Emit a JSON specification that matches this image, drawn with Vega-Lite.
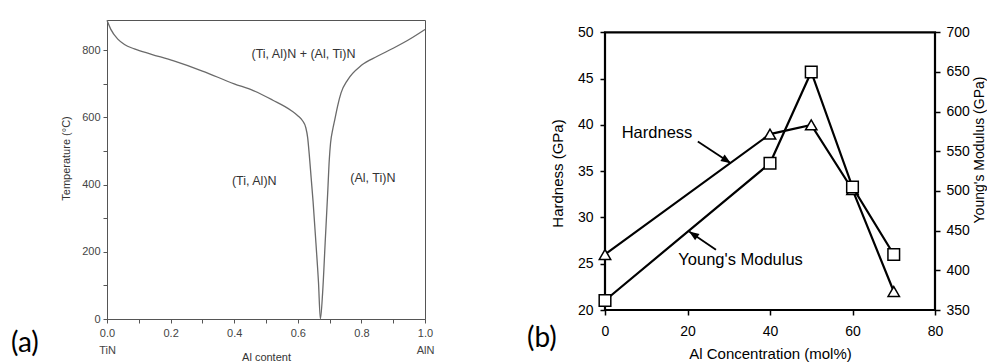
{
  "$schema": "https://vega.github.io/schema/vega-lite/v6.json",
  "background": "white",
  "padding": {"left": 10, "top": 17, "right": 0, "bottom": 0},
  "spacing": 180,
  "bounds": "flush",
  "config": {
    "view": {"stroke": null},
    "axis": {"grid": false, "labelFont": "Liberation Sans", "titleFont": "Liberation Sans", "titleFontWeight": "normal", "labelOverlap": false, "labelFlush": false},
    "text": {"font": "Liberation Sans"}
  },
  "datasets": {
    "solvus": [
      {"al": 0.0, "temp": 889},
      {"al": 0.012, "temp": 862},
      {"al": 0.034, "temp": 833},
      {"al": 0.055, "temp": 817},
      {"al": 0.086, "temp": 804},
      {"al": 0.14, "temp": 788},
      {"al": 0.21, "temp": 768},
      {"al": 0.30, "temp": 738},
      {"al": 0.40, "temp": 700},
      {"al": 0.46, "temp": 680},
      {"al": 0.52, "temp": 652},
      {"al": 0.58, "temp": 620},
      {"al": 0.60, "temp": 605},
      {"al": 0.615, "temp": 590},
      {"al": 0.625, "temp": 570},
      {"al": 0.631, "temp": 540},
      {"al": 0.636, "temp": 490},
      {"al": 0.642, "temp": 420},
      {"al": 0.648, "temp": 350},
      {"al": 0.657, "temp": 226},
      {"al": 0.665, "temp": 110},
      {"al": 0.671, "temp": 0},
      {"al": 0.678, "temp": 77},
      {"al": 0.686, "temp": 226},
      {"al": 0.694, "temp": 375},
      {"al": 0.699, "temp": 474},
      {"al": 0.703, "temp": 524},
      {"al": 0.710, "temp": 565},
      {"al": 0.716, "temp": 592},
      {"al": 0.725, "temp": 633},
      {"al": 0.736, "temp": 673},
      {"al": 0.757, "temp": 712},
      {"al": 0.80, "temp": 755},
      {"al": 0.85, "temp": 782},
      {"al": 0.90, "temp": 806},
      {"al": 0.95, "temp": 832},
      {"al": 1.0, "temp": 862}
    ],
    "phaseLabels": [
      {"label": "(Ti, Al)N + (Al, Ti)N", "al": 0.618, "temp": 788},
      {"label": "(Ti, Al)N", "al": 0.463, "temp": 411},
      {"label": "(Al, Ti)N", "al": 0.836, "temp": 420}
    ],
    "props": [
      {"mol": 0, "hardness": 26, "modulus": 362},
      {"mol": 40, "hardness": 39, "modulus": 535},
      {"mol": 50, "hardness": 40, "modulus": 650},
      {"mol": 60, "hardness": 33, "modulus": 505},
      {"mol": 70, "hardness": 22, "modulus": 420}
    ],
    "frame": [
      {"mol": 0, "mol2": 80, "hardness": 20, "hardness2": 50}
    ],
    "arrows": [
      {"label": "Hardness", "end": "tail", "mol": 22.5, "hardness": 38.2},
      {"label": "Hardness", "end": "tip", "mol": 30.5, "hardness": 35.86},
      {"label": "Young's Modulus", "end": "tail", "mol": 26.9, "hardness": 26.5},
      {"label": "Young's Modulus", "end": "tip", "mol": 20.4, "hardness": 28.48}
    ],
    "notes": [
      {"label": "Hardness", "mol": 4.05, "hardness": 38.57},
      {"label": "Young's Modulus", "mol": 17.77, "hardness": 24.87}
    ]
  },
  "hconcat": [
    {
      "width": 318,
      "height": 299,
      "view": {"stroke": "#555", "strokeWidth": 1},
      "title": {"text": "(a)", "orient": "bottom", "anchor": "start", "frame": "group", "dx": -96, "offset": -32, "font": "Lato", "fontSize": 28, "fontWeight": "normal", "color": "#000"},
      "encoding": {
        "x": {
          "field": "al", "type": "quantitative",
          "scale": {"domain": [0, 1], "nice": false, "zero": false},
          "axis": {
            "title": "Al content",
            "values": [0, 0.1, 0.2, 0.3, 0.4, 0.5, 0.6, 0.7, 0.8, 0.9, 1.0],
            "labelExpr": "datum.value == 0 ? ['0.0', 'TiN'] : datum.value == 1 ? ['1.0', 'AlN'] : (round(datum.value * 10) % 2 == 0 ? format(datum.value, '.1f') : '')",
            "domainColor": "#555", "tickColor": "#555", "tickSize": 4,
            "labelColor": "#444", "labelFontSize": 11, "labelPadding": 4, "labelLineHeight": 17,
            "titleColor": "#333", "titleFontSize": 11, "titlePadding": -4
          }
        },
        "y": {
          "field": "temp", "type": "quantitative",
          "scale": {"domain": [0, 890], "nice": false, "zero": false},
          "axis": {
            "title": "Temperature (°C)",
            "values": [0, 100, 200, 300, 400, 500, 600, 700, 800],
            "labelExpr": "datum.value % 200 == 0 ? datum.label : ''",
            "domainColor": "#555", "tickColor": "#555", "tickSize": 4,
            "labelColor": "#444", "labelFontSize": 11, "labelPadding": 3,
            "titleColor": "#333", "titleFontSize": 11, "titlePadding": 10, "titleY": 138
          }
        }
      },
      "layer": [
        {
          "data": {"name": "solvus"},
          "mark": {"type": "line", "interpolate": "monotone", "color": "#6a6a6a", "strokeWidth": 1.3},
          "encoding": {"order": {"field": "al", "type": "quantitative"}}
        },
        {
          "data": {"name": "phaseLabels"},
          "mark": {"type": "text", "fontSize": 12.5, "color": "#333", "align": "center", "baseline": "middle"},
          "encoding": {"text": {"field": "label"}}
        }
      ]
    },
    {
      "width": 330,
      "height": 290,
      "view": {"stroke": null},
      "title": {"text": "(b)", "orient": "bottom", "anchor": "start", "frame": "group", "dx": -78, "offset": -36, "font": "Lato", "fontSize": 28, "fontWeight": "normal", "color": "#000"},
      "encoding": {
        "x": {
          "field": "mol", "type": "quantitative",
          "scale": {"domain": [0, 80], "nice": false, "zero": false},
          "axis": {
            "title": "Al Concentration (mol%)",
            "values": [0, 20, 40, 60, 80],
            "domain": false, "tickColor": "#000", "tickSize": 5, "tickWidth": 1.5,
            "labelColor": "#000", "labelFontSize": 14, "labelPadding": 9,
            "titleColor": "#000", "titleFontSize": 15, "titlePadding": 8
          }
        }
      },
      "layer": [
        {
          "encoding": {
            "y": {
              "field": "hardness", "type": "quantitative",
              "scale": {"domain": [20, 51.33], "nice": false, "zero": false},
              "axis": {
                "title": "Hardness (GPa)", "orient": "left",
                "values": [20, 25, 30, 35, 40, 45, 50],
                "domain": false, "tickColor": "#000", "tickSize": 5, "tickWidth": 1.5,
                "labelColor": "#000", "labelFontSize": 14, "labelPadding": 7,
                "titleColor": "#000", "titleFontSize": 15, "titlePadding": 12, "titleY": 153
              }
            }
          },
          "layer": [
            {
              "data": {"name": "frame"},
              "mark": {"type": "rect", "fillOpacity": 0, "stroke": "#000", "strokeWidth": 2.2},
              "encoding": {"x2": {"field": "mol2"}, "y2": {"field": "hardness2"}}
            },
            {
              "data": {"name": "props"},
              "mark": {"type": "line", "color": "#000", "strokeWidth": 2.2}
            },
            {
              "data": {"name": "arrows"},
              "mark": {"type": "line", "color": "#000", "strokeWidth": 1.8},
              "encoding": {"detail": {"field": "label"}}
            },
            {
              "data": {"name": "arrows"},
              "transform": [{"filter": "datum.end == 'tip' && datum.label == 'Hardness'"}],
              "mark": {"type": "point", "shape": "M0,0L-0.55,1.4L0.55,1.4Z", "size": 200, "filled": true, "color": "#000", "opacity": 1, "angle": 123}
            },
            {
              "data": {"name": "arrows"},
              "transform": [{"filter": "datum.end == 'tip' && datum.label != 'Hardness'"}],
              "mark": {"type": "point", "shape": "M0,0L-0.55,1.4L0.55,1.4Z", "size": 200, "filled": true, "color": "#000", "opacity": 1, "angle": 304.6}
            },
            {
              "data": {"name": "props"},
              "mark": {"type": "point", "shape": "triangle-up", "size": 130, "filled": true, "fill": "#fff", "stroke": "#000", "strokeWidth": 1.5, "opacity": 1}
            },
            {
              "data": {"name": "notes"},
              "mark": {"type": "text", "align": "left", "baseline": "alphabetic", "fontSize": 16.5, "color": "#000"},
              "encoding": {"text": {"field": "label"}}
            }
          ]
        },
        {
          "data": {"name": "props"},
          "encoding": {
            "y": {
              "field": "modulus", "type": "quantitative",
              "scale": {"domain": [350, 715.5], "nice": false, "zero": false},
              "axis": {
                "title": "Young's Modulus (GPa)", "orient": "right",
                "values": [350, 400, 450, 500, 550, 600, 650, 700],
                "domain": false, "tickColor": "#000", "tickSize": 5, "tickWidth": 1.5,
                "labelColor": "#000", "labelFontSize": 14, "labelPadding": 6,
                "titleColor": "#000", "titleFontSize": 14, "titlePadding": 3,
                "titleAngle": 270, "titleBaseline": "top", "titleY": 129.5
              }
            }
          },
          "layer": [
            {"mark": {"type": "line", "color": "#000", "strokeWidth": 2.2}},
            {"mark": {"type": "point", "shape": "square", "size": 135, "filled": true, "fill": "#fff", "stroke": "#000", "strokeWidth": 1.5, "opacity": 1}}
          ]
        }
      ],
      "resolve": {"scale": {"y": "independent"}}
    }
  ]
}
